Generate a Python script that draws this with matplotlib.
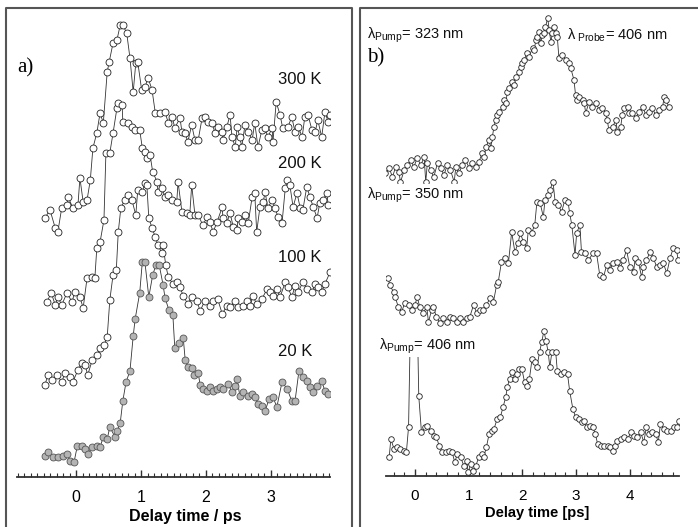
import matplotlib
matplotlib.use('Agg')
import matplotlib.pyplot as plt
from matplotlib.lines import Line2D
from matplotlib.ticker import MultipleLocator

plt.rcParams['font.family'] = ['Liberation Sans', 'DejaVu Sans']
plt.rcParams['mathtext.fontset'] = 'custom'
plt.rcParams['mathtext.rm'] = 'Liberation Sans'
plt.rcParams['mathtext.it'] = 'Liberation Sans:italic'
plt.rcParams['mathtext.bf'] = 'Liberation Sans:bold'

# ---------------- data: panel a) (delay time [ps], signal incl. offset) ----------------
temps = ['300 K', '200 K', '100 K', '20 K']

trace_300K = [(-0.48,259),(-0.40,267),(-0.32,249),(-0.28,245),(-0.22,269),(-0.14,272),(-0.12,280),(-0.05,269),(0.03,272),(0.06,299),(0.11,275),(0.17,277),(0.22,297),(0.26,329),(0.32,344),(0.37,364),(0.42,354),(0.48,405),(0.51,415),(0.57,434),(0.63,437),(0.68,452),(0.72,452),(0.78,444),(0.83,419),(0.88,385),(0.92,414),(0.95,415),(1.01,387),(1.06,390),(1.11,399),(1.17,387),(1.22,364),(1.29,364),(1.37,365),(1.42,354),(1.48,360),(1.52,349),(1.60,359),(1.63,345),(1.68,344),(1.72,335),(1.78,352),(1.83,337),(1.88,337),(1.94,359),(1.98,360),(2.03,355),(2.09,354),(2.14,344),(2.18,350),(2.25,345),(2.26,337),(2.32,350),(2.37,362),(2.40,340),(2.45,330),(2.48,350),(2.52,340),(2.55,330),(2.60,352),(2.65,345),(2.71,337),(2.75,354),(2.80,330),(2.86,347),(2.91,349),(2.95,340),(3.02,349),(3.03,335),(3.08,375),(3.14,362),(3.18,349),(3.26,350),(3.32,360),(3.37,345),(3.42,350),(3.48,340),(3.52,360),(3.57,362),(3.63,347),(3.68,345),(3.72,357),(3.78,340),(3.83,365),(3.88,355),(3.91,362)]

trace_200K = [(-0.45,175),(-0.38,184),(-0.32,172),(-0.28,180),(-0.22,172),(-0.14,184),(-0.06,175),(-0.02,185),(0.06,180),(0.11,169),(0.17,199),(0.25,200),(0.29,199),(0.32,229),(0.37,235),(0.43,257),(0.46,324),(0.52,324),(0.57,344),(0.63,369),(0.65,374),(0.71,372),(0.72,355),(0.80,354),(0.86,350),(0.91,347),(0.98,347),(1.02,329),(1.06,325),(1.09,319),(1.14,322),(1.18,305),(1.25,295),(1.26,285),(1.32,289),(1.37,280),(1.42,282),(1.48,277),(1.55,275),(1.57,295),(1.63,265),(1.71,264),(1.75,262),(1.78,292),(1.83,262),(1.88,262),(1.95,252),(2.02,260),(2.06,255),(2.11,245),(2.17,255),(2.25,270),(2.26,259),(2.32,254),(2.37,264),(2.42,250),(2.48,247),(2.49,259),(2.55,255),(2.60,262),(2.65,254),(2.71,280),(2.75,284),(2.78,245),(2.83,270),(2.88,275),(2.91,285),(2.95,269),(3.02,277),(3.06,269),(3.11,260),(3.17,254),(3.22,289),(3.25,297),(3.29,292),(3.34,270),(3.40,284),(3.45,269),(3.49,267),(3.55,290),(3.60,280),(3.65,270),(3.71,259),(3.75,274),(3.80,277),(3.86,284),(3.88,272)]

trace_100K = [(-0.48,92),(-0.43,102),(-0.37,97),(-0.29,102),(-0.22,95),(-0.17,104),(-0.09,100),(-0.05,95),(0.03,107),(0.09,114),(0.14,112),(0.18,102),(0.25,117),(0.32,122),(0.37,129),(0.43,132),(0.48,140),(0.52,177),(0.57,202),(0.62,207),(0.65,245),(0.69,269),(0.75,277),(0.80,282),(0.86,277),(0.92,262),(0.95,287),(1.02,285),(1.06,294),(1.09,292),(1.12,259),(1.17,249),(1.22,240),(1.26,232),(1.32,224),(1.34,232),(1.38,212),(1.42,200),(1.49,193),(1.55,195),(1.60,190),(1.65,181),(1.72,173),(1.78,180),(1.86,176),(1.91,166),(1.98,176),(2.06,171),(2.11,176),(2.18,178),(2.25,163),(2.32,171),(2.37,170),(2.45,176),(2.49,170),(2.57,171),(2.63,176),(2.68,171),(2.72,181),(2.78,173),(2.86,178),(2.94,188),(2.98,185),(3.03,181),(3.09,188),(3.14,180),(3.22,195),(3.26,190),(3.32,180),(3.37,191),(3.42,185),(3.49,195),(3.55,188),(3.63,185),(3.68,193),(3.72,190),(3.78,185),(3.83,193),(3.91,205)]

trace_20K = [(-0.48,21),(-0.43,25),(-0.35,20),(-0.28,20),(-0.20,21),(-0.14,23),(-0.09,16),(-0.03,15),(0.02,31),(0.09,31),(0.14,28),(0.18,23),(0.25,30),(0.32,31),(0.37,30),(0.42,40),(0.48,38),(0.52,50),(0.60,40),(0.63,46),(0.68,54),(0.72,76),(0.77,95),(0.83,106),(0.88,141),(0.91,158),(0.98,184),(1.02,215),(1.06,215),(1.12,180),(1.18,202),(1.23,212),(1.28,212),(1.34,192),(1.37,179),(1.43,167),(1.49,162),(1.52,129),(1.58,134),(1.65,139),(1.68,117),(1.72,110),(1.78,109),(1.82,102),(1.88,104),(1.91,92),(1.95,88),(2.02,86),(2.06,90),(2.11,86),(2.17,88),(2.22,90),(2.26,88),(2.34,93),(2.40,85),(2.45,91),(2.48,98),(2.52,81),(2.57,85),(2.65,81),(2.71,83),(2.75,80),(2.80,73),(2.86,71),(2.91,66),(2.97,78),(3.03,80),(3.09,70),(3.17,95),(3.25,88),(3.32,76),(3.37,76),(3.43,106),(3.49,100),(3.55,96),(3.60,90),(3.65,85),(3.71,91),(3.78,96),(3.83,86),(3.88,83)]

temp_label_pos = [(3.11, 397), (3.11, 314), (3.11, 220), (3.11, 125)]

# ---------------- data: panel b) ----------------
pump_labels = [r'$\mathrm{λ}_{\mathrm{Pump}}$= 323 nm', r'$\mathrm{λ}_{\mathrm{Pump}}$= 350 nm', r'$\mathrm{λ}_{\mathrm{Pump}}$= 406 nm']
probe_label = r'$\mathrm{λ}_{\ \mathrm{Probe}}$= 406 nm'

trace_323 = [(-0.55,303),(-0.48,308),(-0.42,299),(-0.36,309),(-0.30,304),(-0.27,294),(-0.20,306),(-0.14,311),(-0.08,316),(-0.02,309),(0.04,318),(0.11,311),(0.17,319),(0.20,294),(0.23,313),(0.29,306),(0.35,299),(0.42,313),(0.48,308),(0.54,301),(0.60,311),(0.66,306),(0.73,294),(0.76,309),(0.82,303),(0.88,311),(0.94,316),(1.01,308),(1.07,313),(1.13,309),(1.19,314),(1.25,323),(1.29,319),(1.32,329),(1.38,336),(1.41,328),(1.44,339),(1.47,349),(1.50,356),(1.53,361),(1.57,364),(1.63,369),(1.66,376),(1.69,373),(1.72,384),(1.75,388),(1.81,394),(1.84,391),(1.88,399),(1.94,404),(1.97,409),(2.00,413),(2.03,416),(2.09,423),(2.12,419),(2.19,428),(2.22,426),(2.25,436),(2.28,439),(2.31,444),(2.34,433),(2.37,441),(2.40,443),(2.43,449),(2.47,458),(2.50,446),(2.53,434),(2.56,443),(2.59,449),(2.62,443),(2.65,439),(2.68,418),(2.74,421),(2.81,416),(2.87,413),(2.90,408),(2.96,396),(2.99,381),(3.02,376),(3.06,379),(3.12,376),(3.15,373),(3.18,363),(3.24,374),(3.30,369),(3.37,373),(3.43,366),(3.49,368),(3.55,363),(3.58,356),(3.61,346),(3.68,349),(3.74,356),(3.77,344),(3.83,349),(3.86,361),(3.89,368),(3.96,369),(3.99,363),(4.05,363),(4.11,358),(4.17,364),(4.24,369),(4.30,361),(4.36,364),(4.42,368),(4.48,361),(4.55,366),(4.61,369),(4.64,379),(4.67,376),(4.73,369)]

trace_350 = [(-0.50,198),(-0.47,191),(-0.40,184),(-0.37,179),(-0.31,169),(-0.25,164),(-0.19,173),(-0.12,171),(-0.06,166),(0.00,171),(0.04,179),(0.09,169),(0.15,163),(0.22,169),(0.25,154),(0.31,166),(0.34,169),(0.40,159),(0.47,153),(0.53,158),(0.59,154),(0.65,159),(0.71,158),(0.78,154),(0.84,158),(0.90,154),(0.96,158),(1.02,159),(1.09,171),(1.15,163),(1.21,166),(1.27,166),(1.33,171),(1.40,178),(1.46,174),(1.52,191),(1.55,194),(1.61,214),(1.68,218),(1.74,213),(1.80,244),(1.86,224),(1.92,233),(1.96,243),(2.02,234),(2.08,228),(2.11,246),(2.17,243),(2.23,251),(2.27,274),(2.33,273),(2.39,259),(2.42,276),(2.48,281),(2.51,286),(2.57,294),(2.61,274),(2.67,271),(2.73,264),(2.79,276),(2.85,274),(2.88,263),(2.92,251),(2.98,221),(3.01,243),(3.07,251),(3.10,224),(3.17,223),(3.23,216),(3.32,223),(3.38,223),(3.44,201),(3.51,199),(3.57,211),(3.63,206),(3.69,213),(3.76,214),(3.82,208),(3.88,216),(3.94,226),(4.00,209),(4.07,204),(4.10,218),(4.16,214),(4.22,199),(4.25,209),(4.31,216),(4.38,224),(4.44,218),(4.50,209),(4.56,211),(4.62,213),(4.69,203),(4.75,218),(4.81,228),(4.87,226),(4.90,216)]

trace_406 = [(-0.48,19),(-0.45,37),(-0.39,27),(-0.33,29),(-0.27,27),(-0.20,25),(-0.16,24),(-0.12,49),(-0.09,138),(0.05,138),(0.07,80),(0.12,44),(0.18,49),(0.23,50),(0.29,45),(0.35,40),(0.40,39),(0.45,30),(0.51,24),(0.57,24),(0.63,25),(0.69,24),(0.74,14),(0.79,22),(0.85,19),(0.91,10),(0.96,15),(0.99,4),(1.04,12),(1.08,5),(1.13,10),(1.19,19),(1.24,22),(1.28,19),(1.33,29),(1.38,42),(1.43,45),(1.47,47),(1.53,57),(1.59,59),(1.64,69),(1.69,79),(1.72,89),(1.76,97),(1.81,104),(1.86,97),(1.90,102),(1.94,107),(1.99,107),(2.04,94),(2.09,90),(2.13,97),(2.18,117),(2.23,114),(2.27,109),(2.32,124),(2.36,134),(2.40,145),(2.44,135),(2.48,124),(2.51,109),(2.55,124),(2.62,124),(2.65,105),(2.71,102),(2.77,104),(2.84,102),(2.88,85),(2.94,67),(2.99,59),(3.06,57),(3.11,54),(3.15,55),(3.20,49),(3.25,50),(3.31,49),(3.36,42),(3.40,32),(3.46,30),(3.52,30),(3.59,30),(3.64,29),(3.69,25),(3.73,30),(3.77,35),(3.83,37),(3.89,39),(3.96,37),(4.02,44),(4.08,40),(4.14,39),(4.20,44),(4.26,34),(4.31,49),(4.36,42),(4.42,44),(4.48,42),(4.53,34),(4.57,52),(4.64,47),(4.70,45),(4.76,45),(4.82,49),(4.88,49),(4.92,55)]

xticks_a = [0, 1, 2, 3]
xticks_b = [0, 1, 2, 3, 4]

# ---------------- figure ----------------
W, H = 698, 527
fig = plt.figure(figsize=(W / 100, H / 100), dpi=100)

def fx(px):
    return px / W

def fy(py):
    return 1 - py / H

axL = fig.add_axes([fx(17), fy(477), fx(330) - fx(17), fy(0) - fy(477)])
axR = fig.add_axes([fx(386), fy(476), fx(679) - fx(386), fy(0) - fy(476)])

line_kw = dict(color='#333333', lw=0.6)

def style_axis(ax, xlim, ylim, ticks, minor, labelsize):
    ax.set_xlim(*xlim)
    ax.set_ylim(*ylim)
    for s in ('left', 'right', 'top'):
        ax.spines[s].set_visible(False)
    ax.spines['bottom'].set_linewidth(1.3)
    ax.spines['bottom'].set_color('#303030')
    ax.set_yticks([])
    ax.set_xticks(ticks)
    ax.xaxis.set_minor_locator(MultipleLocator(minor))
    ax.tick_params(axis='x', which='major', direction='in', length=5, width=1.0,
                   color='#303030', labelsize=labelsize, pad=9)
    ax.tick_params(axis='x', which='minor', direction='in', length=3, width=0.8,
                   color='#303030')
    ax.patch.set_alpha(0)

# panel a
traces_a = [trace_300K, trace_200K, trace_100K, trace_20K]
for i, tr in enumerate(traces_a):
    t = [p[0] for p in tr]
    s = [p[1] for p in tr]
    face = '#b4b4b4' if temps[i] == '20 K' else 'white'
    edge = '#555555' if temps[i] == '20 K' else '#222222'
    axL.plot(t, s, marker='o', ms=5.0, mfc=face, mec=edge, mew=0.6, zorder=3 + i, **line_kw)
for lab, (tx, ty) in zip(temps, temp_label_pos):
    axL.text(tx, ty, lab, fontsize=12, ha='left', va='center', color='#111111')

style_axis(axL, (-0.908, 3.908), (0, 477), xticks_a, 0.1, 11.5)
axL.set_xlabel('Delay time / ps', fontsize=11.5, fontweight='bold')
axL.xaxis.set_label_coords((185 - 17) / 313, (477 - 516) / 477)
axL.xaxis.label.set_va('center')

# panel b
traces_b = [trace_323, trace_350, trace_406]
for tr in traces_b:
    t = [p[0] for p in tr]
    s = [p[1] for p in tr]
    axR.plot(t, s, marker='o', ms=4.0, mfc='white', mec='#222222', mew=0.6, **line_kw)

style_axis(axR, (-0.54, 4.916), (0, 476), xticks_b, 0.2, 11)
axR.set_xlabel('Delay time [ps]', fontsize=10.5, fontweight='bold')
axR.xaxis.set_label_coords((537.5 - 386) / 293, (476 - 513) / 476)
axR.xaxis.label.set_va('center')

# labels panel b
lab_pos = [(367, 35), (367, 195), (379, 346)]
for lab, (px, py) in zip(pump_labels, lab_pos):
    fig.text(fx(px), fy(py), lab, fontsize=10.5, ha='left', va='center', color='#111111',
             bbox=dict(facecolor='white', edgecolor='none', pad=1.0))
fig.text(fx(567), fy(35), probe_label, fontsize=10.5,
         ha='left', va='center', color='#111111')

fig.text(fx(17), fy(68), 'a)', fontsize=15, family='Liberation Serif', ha='left', va='center')
fig.text(fx(367), fy(58), 'b)', fontsize=15, family='Liberation Serif', ha='left', va='center')

# panel frames
box_kw = dict(transform=fig.transFigure, color='#555555', lw=1.5)
fig.add_artist(Line2D([fx(6), fx(6), fx(352), fx(352)], [0, fy(8), fy(8), 0], **box_kw))
fig.add_artist(Line2D([fx(360), fx(360), 1.0], [0, fy(8), fy(8)], **box_kw))

fig.savefig('out.png', dpi=100)
